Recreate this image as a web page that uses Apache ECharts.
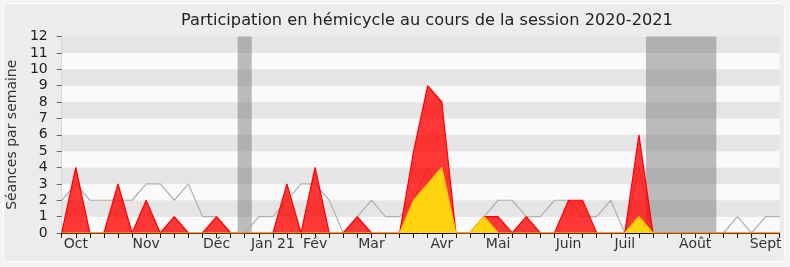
<!DOCTYPE html>
<html>
<head>
<meta charset="utf-8">
<script src="https://cdn.jsdelivr.net/npm/echarts@6/dist/echarts.min.js"></script>
<style>
html,body{margin:0;padding:0;background:#f4f4f4;}
#frame{position:absolute;left:3px;top:3px;width:780px;height:257px;border:1px solid #ffffff;border-radius:5px;background:#ececec;}
#chart{position:absolute;left:0;top:0;width:790px;height:267px;}
</style>
</head>
<body>
<div id="frame"></div>
<div id="chart"></div>
<script>
// Weekly data, 52 weeks (Sept 2020 -> Sept 2021)
var presence = [0,4,0,0,3,0,2,0,1,0,0,1,0,0,0,0,3,0,4,0,0,1,0,0,0,5,9,8,0,0,1,1,0,1,0,0,2,2,0,0,0,6,0,0,0,0,0,0,0,0,0,0];
var interventions = [0,0,0,0,0,0,0,0,0,0,0,0,0,0,0,0,0,0,0,0,0,0,0,0,0,2,3,4,0,0,1,0,0,0,0,0,0,0,0,0,0,1,0,0,0,0,0,0,0,0,0,0];
var median = [2,3,2,2,2,2,3,3,2,3,1,1,0,0,1,1,2,3,3,2,0,1,2,1,1,2,4,2,0,0,1,2,2,1,1,2,2,1,1,2,0,4,0,0,0,0,0,0,1,0,1,1];
var monthIdx = [1,6,11,15,18,22,27,31,36,40,45,50];
var monthNames = ['Oct','Nov','Déc','Jan 21','Fév','Mar','Avr','Mai','Juin','Juil','Août','Sept'];
var holidays = [[12.5,13.5],[41.5,46.5]];
var yMax = 12;

var labelMap = {};
monthIdx.forEach(function(v,k){ labelMap[v] = monthNames[k]; });
function pairs(arr){ return arr.map(function(v,i){ return [i,v]; }); }

var font = 'DejaVu Sans';
var chart = echarts.init(document.getElementById('chart'), null, {renderer:'canvas'});
chart.setOption({
  animation:false,
  backgroundColor:'transparent',
  title:{
    text:'Participation en hémicycle au cours de la session 2020-2021',
    left:176, top:8,
    textStyle:{fontFamily:font,fontSize:16.2,fontWeight:'normal',color:'#222'}
  },
  grid:{left:61.7,right:10.3,top:36.5,bottom:34,outerBoundsMode:'none',containLabel:false},
  xAxis:[{
    type:'value', min:0, max:presence.length-1, interval:1,
    axisLine:{show:true,onZero:false,lineStyle:{color:'#111',width:1}},
    axisTick:{show:true,length:5,lineStyle:{color:'#222'}},
    axisLabel:{margin:4,fontFamily:font,fontSize:14,color:'#333',
      formatter:function(v){ return labelMap[v] || ''; }},
    splitLine:{show:false}
  },{
    type:'value', position:'top', min:0, max:presence.length-1, interval:1,
    axisLine:{show:false},
    axisTick:{show:true,inside:true,length:2,lineStyle:{color:'#000'}},
    axisLabel:{show:false}, splitLine:{show:false}
  }],
  yAxis:[{
    type:'value', min:0, max:yMax, interval:1,
    name:'Séances par semaine', nameLocation:'middle', nameGap:42,
    nameTextStyle:{fontFamily:font,fontSize:14,color:'#333'},
    axisLine:{show:true,lineStyle:{color:'#111'}},
    axisTick:{show:true,length:5,lineStyle:{color:'#666'}},
    axisLabel:{margin:14,fontFamily:font,fontSize:14,color:'#222'},
    splitLine:{show:false},
    splitArea:{show:true,areaStyle:{color:['#fafafa','#e5e5e5']}}
  },{
    type:'value', position:'right', min:0, max:yMax, interval:1,
    axisLine:{show:true,lineStyle:{color:'#d8d8d8'}},
    axisTick:{show:false}, axisLabel:{show:false}, splitLine:{show:false}
  }],
  series:[{
    type:'line', data:pairs(median), symbol:'none', z:2,
    lineStyle:{color:'#b0b0b0',width:1.2}, itemStyle:{color:'#b0b0b0'},
    markArea:{silent:true,itemStyle:{color:'rgba(110,110,110,0.45)'},
      data:holidays.map(function(h){ return [{xAxis:h[0]},{xAxis:h[1]}]; })}
  },{
    type:'line', data:pairs(presence), symbol:'none', z:3,
    lineStyle:{color:'#ff0000',width:1.2}, itemStyle:{color:'#ff0000'},
    areaStyle:{color:'#ff0000',opacity:0.78}
  },{
    type:'line', data:pairs(interventions), symbol:'none', z:4,
    lineStyle:{color:'#ffc800',width:1.2}, itemStyle:{color:'#ffc800'},
    areaStyle:{color:'#ffd40f',opacity:1}
  }]
});
</script>
</body>
</html>
